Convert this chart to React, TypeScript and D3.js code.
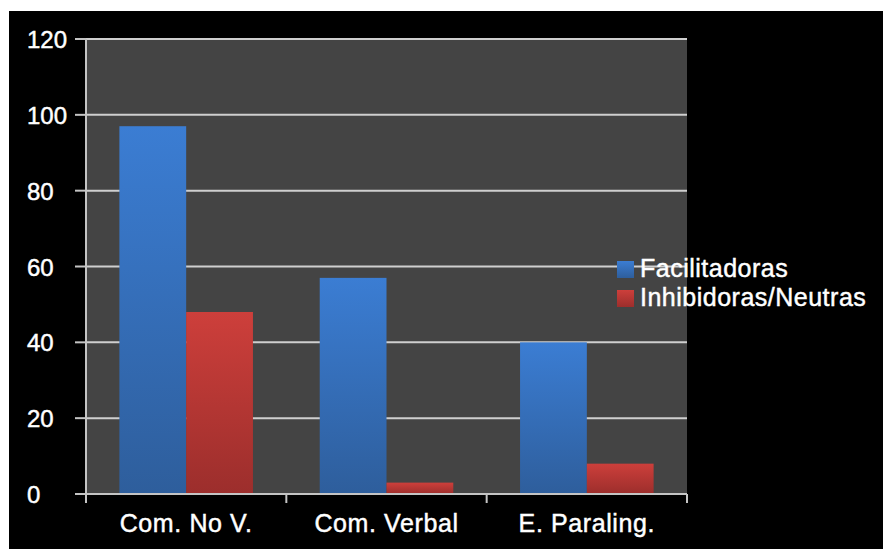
import { scaleBand, scaleLinear } from 'd3'

const WIDTH = 883
const HEIGHT = 549
const PLOT = { left: 86, right: 687, top: 39, bottom: 494 }

const categories = ['Com. No V.', 'Com. Verbal', 'E. Paraling.']
const seriesNames = ['Facilitadoras', 'Inhibidoras/Neutras']
const facilitadoras = [97, 57, 40]
const inhibidoras = [48, 3, 8]
const yTicks = [0, 20, 40, 60, 80, 100, 120]

const seriesValues = [facilitadoras, inhibidoras]
const seriesColors = [
  { top: '#3b7dd3', bottom: '#2e5e9c', id: 'gradBlue' },
  { top: '#cd3f3b', bottom: '#9c2e2c', id: 'gradRed' },
]

const FONT = 'Liberation Sans, Arial, sans-serif'
const textStyle = { fill: '#ffffff', stroke: '#ffffff', strokeWidth: 0.45 }

export default function App() {
  const x = scaleBand<string>().domain(categories).range([PLOT.left, PLOT.right]).paddingInner(0).paddingOuter(0)
  const x1 = scaleBand<string>().domain(seriesNames).range([0, x.bandwidth()]).paddingInner(0).paddingOuter(0.5)
  const y = scaleLinear().domain([0, 120]).range([PLOT.bottom, PLOT.top])

  const xTickPositions = [PLOT.left, ...categories.map((c) => (x(c) ?? 0) + x.bandwidth())]

  return (
    <svg
      width={WIDTH}
      height={HEIGHT}
      style={{ position: 'absolute', left: 0, top: 0, display: 'block' }}
      fontFamily={FONT}
    >
      <defs>
        {seriesColors.map((c) => (
          <linearGradient key={c.id} id={c.id} x1="0" y1="0" x2="0" y2="1">
            <stop offset="0%" stopColor={c.top} />
            <stop offset="100%" stopColor={c.bottom} />
          </linearGradient>
        ))}
      </defs>
      <rect x={0} y={0} width={WIDTH} height={HEIGHT} fill="#ffffff" />
      <rect x={9} y={11} width={WIDTH - 9} height={HEIGHT - 11} fill="#000000" />
      <rect x={PLOT.left} y={PLOT.top} width={PLOT.right - PLOT.left} height={PLOT.bottom - PLOT.top} fill="#444444" />

      {yTicks.filter((t) => t > 0).map((t) => (
        <line key={t} x1={PLOT.left} x2={PLOT.right} y1={y(t)} y2={y(t)} stroke="#cfcfcf" strokeWidth={2} />
      ))}

      {categories.map((cat, i) =>
        seriesNames.map((s, j) => {
          const v = seriesValues[j][i]
          return (
            <rect
              key={cat + s}
              x={(x(cat) ?? 0) + (x1(s) ?? 0)}
              y={y(v)}
              width={x1.bandwidth()}
              height={y(0) - y(v)}
              fill={`url(#${seriesColors[j].id})`}
            />
          )
        })
      )}

      {/* axes */}
      <line x1={PLOT.left} x2={PLOT.left} y1={PLOT.top} y2={PLOT.bottom + 9} stroke="#c4c4c4" strokeWidth={2} />
      <line x1={PLOT.left - 11} x2={PLOT.right} y1={PLOT.bottom} y2={PLOT.bottom} stroke="#c4c4c4" strokeWidth={2} />
      {yTicks.map((t) => (
        <g key={t}>
          <line x1={PLOT.left - 11} x2={PLOT.left} y1={y(t)} y2={y(t)} stroke="#c4c4c4" strokeWidth={2} />
          <text x={27} y={y(t) + 9} fontSize={24} {...textStyle}>
            {t}
          </text>
        </g>
      ))}
      {xTickPositions.map((px, i) => (
        <line key={i} x1={px} x2={px} y1={PLOT.bottom} y2={PLOT.bottom + 9} stroke="#c4c4c4" strokeWidth={2} />
      ))}
      {categories.map((cat) => (
        <text
          key={cat}
          x={(x(cat) ?? 0) + x.bandwidth() / 2}
          y={532}
          fontSize={25}
          letterSpacing={0.6}
          textAnchor="middle"
          {...textStyle}
        >
          {cat}
        </text>
      ))}

      {/* legend */}
      {seriesNames.map((s, j) => (
        <g key={s} transform={`translate(617, ${261 + j * 29})`}>
          <rect x={0} y={0} width={17} height={17} fill={`url(#${seriesColors[j].id})`} />
          <text x={23} y={16} fontSize={25} letterSpacing={0.5} {...textStyle}>
            {s}
          </text>
        </g>
      ))}
    </svg>
  )
}
